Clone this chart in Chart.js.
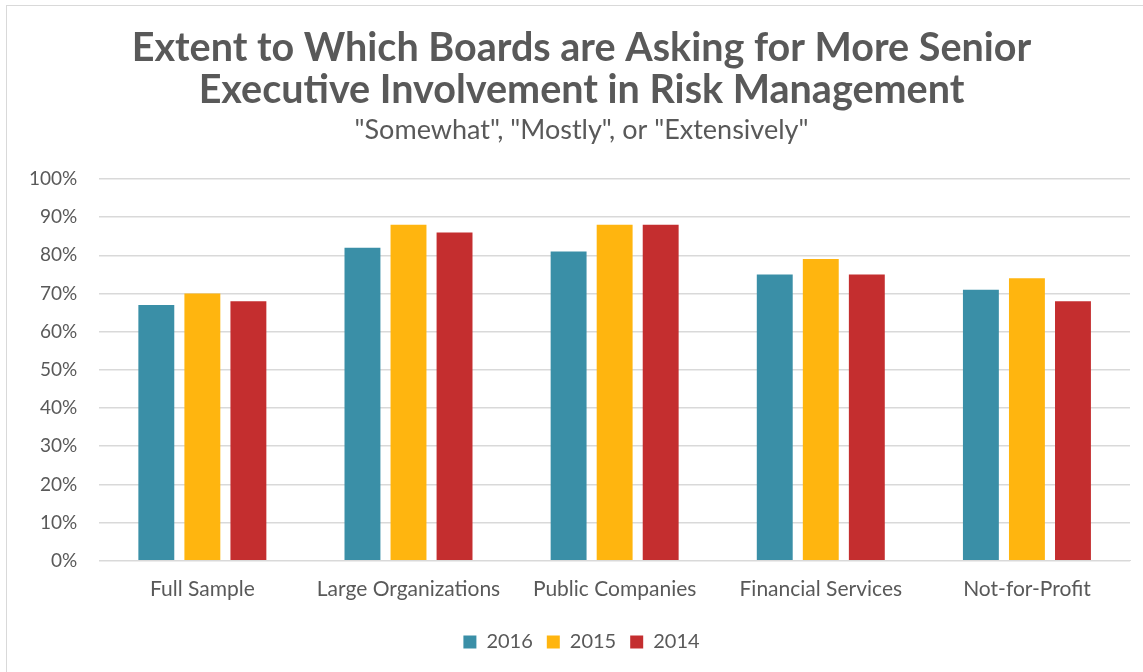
<!DOCTYPE html>
<html>
<head>
<meta charset="utf-8">
<script src="https://cdn.jsdelivr.net/npm/chart.js@4"></script>
<style>
  body { margin: 0; background: #fff; }
  #frame { position: absolute; left: 6px; top: 5px; width: 1150px; height: 680px; border: 1px solid #d9d9d9; }
  #canvas { position: absolute; left: 0; top: 0; }
</style>
</head>
<body>
<div id="frame"></div>
<canvas id="canvas" width="1143" height="672"></canvas>
<script>
// categories and values (percent)
var categories = ['Full Sample', 'Large Organizations', 'Public Companies', 'Financial Services', 'Not-for-Profit'];
var years = ['2016', '2015', '2014'];
var values2016 = [67, 82, 81, 75, 71];
var values2015 = [70, 88, 88, 79, 74];
var values2014 = [68, 86, 88, 75, 68];
var colors = ['#3A8FA7', '#FFB50F', '#C42E2F'];

var textColor = '#595959';
var fontFamily = 'Lato, "Open Sans", sans-serif';

var series = [values2016, values2015, values2014];
var dataSets = [];
for (var i = 0; i < years.length; i++) {
    dataSets.push({
        label: years[i],
        data: series[i],
        backgroundColor: colors[i],
        borderWidth: 0,
        barPercentage: 0.78,
        categoryPercentage: 0.67
    });
}

// the original frame is cut off on the right, so title and legend sit a bit right of the plot centre
var shiftCenter = {
    id: 'shiftCenter',
    afterLayout: function(chart) {
        chart.boxes.forEach(function(b) {
            if (!b.axis) {
                b.left += 13;
                b.right += 13;
            }
        });
    }
};

var ctx = document.getElementById('canvas').getContext('2d');
var myChart = new Chart(ctx, {
    type: 'bar',
    data: {
        labels: categories,
        datasets: dataSets
    },
    plugins: [shiftCenter],
    options: {
        responsive: false,
        animation: false,
        layout: {
            padding: { left: 7, right: 13, top: 27, bottom: 10 }
        },
        plugins: {
            title: {
                display: true,
                text: ['Extent to Which Boards are Asking for More Senior', 'Executive Involvement in Risk Management'],
                color: textColor,
                font: { family: fontFamily, size: 39.5, weight: 'bold', lineHeight: 1.07 },
                padding: { top: 0, bottom: 3 }
            },
            subtitle: {
                display: true,
                text: '"Somewhat", "Mostly", or "Extensively"',
                color: textColor,
                font: { family: fontFamily, size: 27 },
                padding: { top: 0, bottom: 32 }
            },
            legend: {
                position: 'bottom',
                labels: {
                    color: textColor,
                    font: { family: fontFamily, size: 20 },
                    boxWidth: 13,
                    boxHeight: 13,
                    padding: 14
                }
            },
            tooltip: { enabled: false }
        },
        scales: {
            x: {
                grid: { display: false, drawTicks: false },
                border: { display: true, color: '#d9d9d9', width: 1 },
                ticks: { color: textColor, font: { family: fontFamily, size: 21 }, padding: 16 }
            },
            y: {
                min: 0,
                max: 100,
                ticks: {
                    stepSize: 10,
                    color: textColor,
                    font: { family: fontFamily, size: 19 },
                    padding: 22,
                    callback: function(v) { return v + '%'; }
                },
                grid: { color: '#d9d9d9', lineWidth: 1.5, drawTicks: false },
                border: { display: false }
            }
        }
    }
});
</script>
</body>
</html>
